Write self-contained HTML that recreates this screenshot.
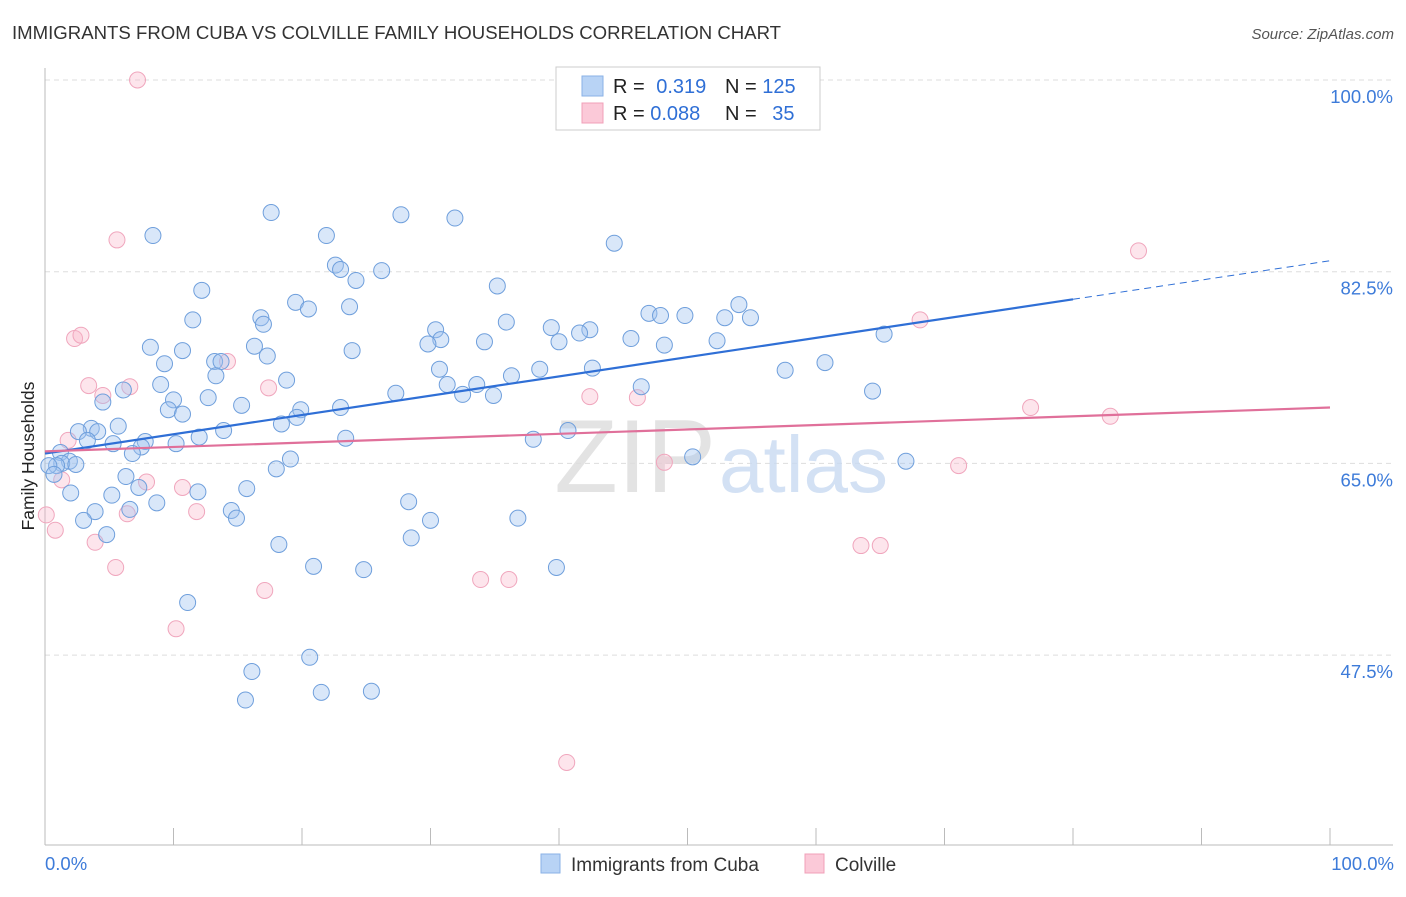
<!DOCTYPE html>
<html><head><meta charset="utf-8">
<style>
body{margin:0;background:#fff;font-family:"Liberation Sans",sans-serif;}
svg text{font-family:"Liberation Sans",sans-serif;}
</style></head>
<body>
<svg id="chart" width="1406" height="892" viewBox="0 0 1406 892">
<text x="12" y="39" font-size="18.6" fill="#333">IMMIGRANTS FROM CUBA VS COLVILLE FAMILY HOUSEHOLDS CORRELATION CHART</text>
<text x="1394" y="39" font-size="15" fill="#555" font-style="italic" text-anchor="end">Source: ZipAtlas.com</text>
<text x="0" y="0" transform="translate(34,456) rotate(-90)" font-size="17.5" fill="#222" text-anchor="middle">Family Households</text>
<g id="grid"></g>
<text x="716" y="492" font-size="104" fill="#ddd" text-anchor="end" font-family="Liberation Serif" opacity="0.8">ZIP</text>
<text x="719" y="492" font-size="80" fill="#c9daf2" opacity="0.8">atlas</text>
<g id="points"></g>
<g id="trends"></g>
<g>
<rect x="556" y="67" width="264" height="63" fill="#fff" stroke="#ccc"/>
<rect x="582" y="76" width="21" height="20" fill="#b8d3f5" stroke="#8ab2e6"/>
<rect x="582" y="103" width="21" height="20" fill="#fbc9d8" stroke="#f0a0b8"/>
<text x="613" y="93" font-size="20" fill="#222">R = <tspan fill="#2f6fd6" dx="6">0.319</tspan></text>
<text x="725" y="93" font-size="20" fill="#222">N = <tspan fill="#2f6fd6">125</tspan></text>
<text x="613" y="120" font-size="20" fill="#222">R = <tspan fill="#2f6fd6">0.088</tspan></text>
<text x="725" y="120" font-size="20" fill="#222">N = <tspan fill="#2f6fd6" dx="10">35</tspan></text>
</g>
<g>
<rect x="541" y="854" width="19" height="19" fill="#b8d3f5" stroke="#8ab2e6"/>
<text x="571" y="871" font-size="19" fill="#333">Immigrants from Cuba</text>
<rect x="805" y="854" width="19" height="19" fill="#fbc9d8" stroke="#f0a0b8"/>
<text x="835" y="871" font-size="19" fill="#333">Colville</text>
</g>
<text x="45" y="870" font-size="18.5" fill="#3d7bd9">0.0%</text>
<text x="1394" y="870" font-size="18.5" fill="#3d7bd9" text-anchor="end">100.0%</text>
</svg>
<script>
const yTicks=[100,82.5,65,47.5];
const yTickLabels=["100.0%","82.5%","65.0%","47.5%"];
const xTicks=[0,10,20,30,40,50,60,70,80,90,100];
const cubaX=[8.4,17.6,27.7,31.9,21.9,44.3,22.6,23.0,26.2,24.2,35.2,12.2,19.5,20.5,23.7,11.5,16.8,17.0,35.9,47.0,47.9,49.8,54.0,52.9,54.9,39.4,30.4,42.4,41.6,45.6,30.8,29.8,34.2,40.0,48.2,52.3,65.3,8.2,10.7,16.3,23.9,17.3,13.2,13.7,9.3,13.3,18.8,30.7,38.5,42.6,36.3,57.6,60.7,9.0,31.3,33.6,6.1,27.3,32.5,34.9,46.4,64.4,4.5,10.0,12.7,15.3,9.6,10.7,23.0,19.9,19.6,18.4,5.7,3.6,4.1,2.6,13.9,12.0,40.7,38.0,3.3,5.3,7.8,10.2,7.5,23.4,6.8,1.2,1.9,1.3,2.4,0.9,0.3,0.7,19.1,50.4,67.0,18.0,6.3,7.3,15.7,2.0,5.2,11.9,8.7,28.3,14.5,6.6,3.9,3.0,14.9,30.0,36.8,4.8,28.5,18.2,20.9,24.8,39.8,11.1,20.6,16.1,21.5,25.4,15.6];
const cubaY=[85.8,87.9,87.7,87.4,85.8,85.1,83.1,82.7,82.6,81.7,81.2,80.8,79.7,79.1,79.3,78.1,78.3,77.7,77.9,78.7,78.5,78.5,79.5,78.3,78.3,77.4,77.2,77.2,76.9,76.4,76.3,75.9,76.1,76.1,75.8,76.2,76.8,75.6,75.3,75.7,75.3,74.8,74.3,74.3,74.1,73.0,72.6,73.6,73.6,73.7,73.0,73.5,74.2,72.2,72.2,72.2,71.7,71.4,71.3,71.2,72.0,71.6,70.6,70.8,71.0,70.3,69.9,69.5,70.1,69.9,69.2,68.6,68.4,68.2,67.9,67.9,68.0,67.4,68.0,67.2,67.1,66.8,67.0,66.8,66.5,67.3,65.9,66.0,65.2,65.0,64.9,64.8,64.8,64.0,65.4,65.6,65.2,64.5,63.8,62.8,62.7,62.3,62.1,62.4,61.4,61.5,60.7,60.8,60.6,59.8,60.0,59.8,60.0,58.5,58.2,57.6,55.6,55.3,55.5,52.3,47.3,46.0,44.1,44.2,43.4];
const colX=[7.2,53.5,5.6,85.1,68.1,2.3,2.8,14.2,3.4,4.5,6.6,17.4,42.4,46.1,76.7,82.9,1.8,1.3,7.9,10.7,11.8,6.4,0.1,0.8,3.9,48.2,71.1,5.5,63.5,65.0,17.1,33.9,36.1,10.2,40.6];
const colY=[100,100,85.4,84.4,78.1,76.4,76.7,74.3,72.1,71.2,72.0,71.9,71.1,71.0,70.1,69.3,67.1,63.5,63.3,62.8,60.6,60.4,60.3,58.9,57.8,65.1,64.8,55.5,57.5,57.5,53.4,54.4,54.4,49.9,37.7];
const cubaTrend=[65.9,0.176];
const colTrend=[66.1,0.04];

const NS="http://www.w3.org/2000/svg";
const X0=45,X1=1330,YTOP=80,PX=191.7/17.5;
const sx=v=>X0+(X1-X0)*v/100;
const sy=v=>YTOP+(100-v)*PX;
function mk(tag,attrs,parent){const e=document.createElementNS(NS,tag);for(const k in attrs)e.setAttribute(k,attrs[k]);parent.appendChild(e);return e;}
const grid=document.getElementById('grid');
yTicks.forEach((t,i)=>{
  const l=mk('line',{x1:X0,x2:1393,y1:sy(t),y2:sy(t),stroke:'#ddd','stroke-dasharray':'5,4'},grid);
  
  
  const tx=mk('text',{x:1393,y:sy(t)+23,'font-size':18.5,fill:'#3d7bd9','text-anchor':'end'},grid);
  tx.textContent=yTickLabels[i];
  
  
});
const ya=mk('line',{x1:X0,x2:X0,y1:68,y2:845,stroke:'#bbb'},grid);


const xa=mk('line',{x1:X0,x2:1393,y1:845,y2:845,stroke:'#bbb'},grid);


xTicks.forEach(t=>{
  const l=mk('line',{x1:sx(t),x2:sx(t),y1:828,y2:845,stroke:'#bbb'},grid);
  
  
});
const pts=document.getElementById('points');
colX.forEach((x,i)=>{
  const c=mk('circle',{cx:sx(x),cy:sy(colY[i]),r:8,fill:'rgba(248,180,200,0.35)',stroke:'#f0a6bd','stroke-width':1},pts);
  
  
});
cubaX.forEach((x,i)=>{
  const c=mk('circle',{cx:sx(x),cy:sy(cubaY[i]),r:8,fill:'rgba(160,196,240,0.4)',stroke:'#6f9fdc','stroke-width':1},pts);
  
  
});
const tr=document.getElementById('trends');
const f=(tp,x)=>tp[0]+tp[1]*x;
const b1=mk('line',{x1:sx(0),y1:sy(f(cubaTrend,0)),x2:sx(80),y2:sy(f(cubaTrend,80)),stroke:'#2f6fd6','stroke-width':2.2},tr);


const b2=mk('line',{x1:sx(80),y1:sy(f(cubaTrend,80)),x2:sx(100),y2:sy(f(cubaTrend,100)),stroke:'#2f6fd6','stroke-width':1,'stroke-dasharray':'7,5'},tr);


const p1=mk('line',{x1:sx(0),y1:sy(f(colTrend,0)),x2:sx(100),y2:sy(f(colTrend,100)),stroke:'#e0709a','stroke-width':2.2},tr);


</script>
</body></html>
